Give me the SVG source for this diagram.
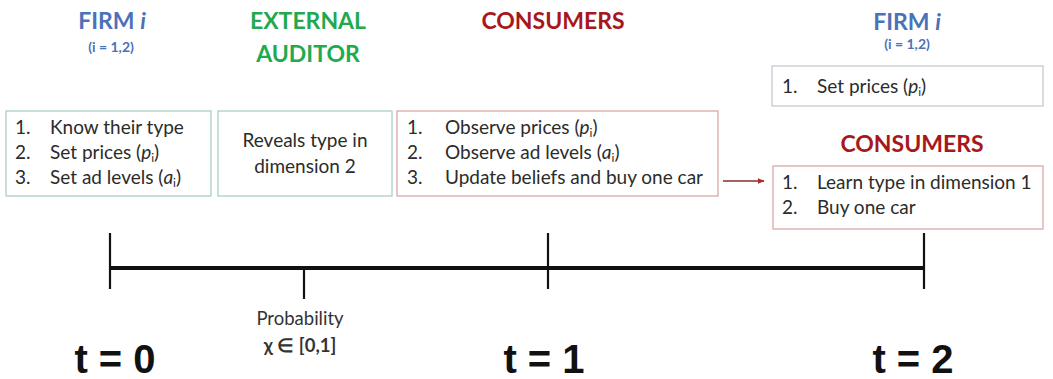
<svg xmlns="http://www.w3.org/2000/svg" width="1053" height="379" viewBox="0 0 1053 379">
  <defs>
    <marker id="arrowhead" viewBox="0 0 10 10" refX="9" refY="5" markerWidth="7" markerHeight="7" orient="auto" markerUnits="userSpaceOnUse">
      <path d="M0,1 L10,5 L0,9 z" fill="#b22a2a"/>
    </marker>
    <style>
      text { font-family: Lato, "Liberation Sans", sans-serif; fill: #2b2b2b; }
      .hd { font-weight: bold; font-size: 23px; text-anchor: middle; }
      .firm { fill: #4a72b8; }
      .aud { fill: #1faa4f; }
      .cons { fill: #a8171b; }
      .sub { font-size: 14px; font-weight: bold; text-anchor: middle; fill: #4a72b8; }
      .item { font-size: 19px; }
      .mid { text-anchor: middle; }
      .box { fill: #ffffff; stroke-width: 1.3; }
      .teal { stroke: #a9cfc8; }
      .pink { stroke: #d7a9a9; }
      .grey { stroke: #c8c9d2; }
      .axis { stroke: #111; stroke-width: 4; fill: none; }
      .tick { stroke: #111; stroke-width: 2.2; fill: none; }
      .t { font-family: "Liberation Sans", Arial, sans-serif; font-weight: bold; font-size: 40px; text-anchor: middle; fill: #111; }
      .prob { font-size: 18.5px; text-anchor: middle; fill: #333; }
    </style>
  </defs>

  <!-- column headers -->
  <g id="header-firm-t0">
    <text class="hd firm" x="112" y="29">FIRM <tspan font-style="italic">i</tspan></text>
    <text class="sub" x="111" y="52">(i = 1,2)</text>
  </g>
  <g id="header-auditor">
    <text class="hd aud" x="308" y="29">EXTERNAL</text>
    <text class="hd aud" x="308" y="62">AUDITOR</text>
  </g>
  <g id="header-consumers-t1">
    <text class="hd cons" x="553" y="29">CONSUMERS</text>
  </g>
  <g id="header-firm-t2">
    <text class="hd firm" x="907" y="30">FIRM <tspan font-style="italic">i</tspan></text>
    <text class="sub" x="907" y="49">(i = 1,2)</text>
  </g>
  <g id="header-consumers-t2">
    <text class="hd cons" x="912" y="152">CONSUMERS</text>
  </g>

  <!-- firm actions at t = 0 -->
  <g id="firm-t0">
    <rect class="box teal" x="6" y="111" width="205" height="85"/>
    <text class="item" x="15" y="134">1.</text><text class="item" x="50" y="134">Know their type</text>
    <text class="item" x="15" y="159">2.</text><text class="item" x="50" y="159">Set prices (<tspan font-style="italic">p</tspan><tspan font-size="12" dy="3">i</tspan><tspan dy="-3">)</tspan></text>
    <text class="item" x="15" y="184">3.</text><text class="item" x="50" y="184">Set ad levels (<tspan font-style="italic">a</tspan><tspan font-size="12" dy="3">i</tspan><tspan dy="-3">)</tspan></text>
  </g>

  <!-- auditor -->
  <g id="auditor">
    <rect class="box teal" x="218" y="111" width="174" height="85"/>
    <text class="item mid" x="305" y="147">Reveals type in</text>
    <text class="item mid" x="305" y="173">dimension 2</text>
  </g>

  <!-- consumers at t = 1 -->
  <g id="consumers-t1">
    <rect class="box pink" x="397" y="111" width="321" height="85"/>
    <text class="item" x="407" y="134">1.</text><text class="item" x="445" y="134">Observe prices (<tspan font-style="italic">p</tspan><tspan font-size="12" dy="3">i</tspan><tspan dy="-3">)</tspan></text>
    <text class="item" x="407" y="159">2.</text><text class="item" x="445" y="159">Observe ad levels (<tspan font-style="italic">a</tspan><tspan font-size="12" dy="3">i</tspan><tspan dy="-3">)</tspan></text>
    <text class="item" x="407" y="184">3.</text><text class="item" x="445" y="184">Update beliefs and buy one car</text>
  </g>

  <!-- firm at t = 2 -->
  <g id="firm-t2">
    <rect class="box grey" x="772" y="66" width="271" height="40"/>
    <text class="item" x="782" y="93">1.</text><text class="item" x="817" y="93">Set prices (<tspan font-style="italic">p</tspan><tspan font-size="12" dy="3">i</tspan><tspan dy="-3">)</tspan></text>
  </g>

  <!-- consumers at t = 2 -->
  <g id="consumers-t2">
    <rect class="box pink" x="773" y="166" width="270" height="63"/>
    <text class="item" x="782" y="189">1.</text><text class="item" x="817" y="189">Learn type in dimension 1</text>
    <text class="item" x="782" y="214">2.</text><text class="item" x="817" y="214">Buy one car</text>
  </g>

  <!-- connectors and timeline -->
  <g id="connectors">
    <line x1="723" y1="181" x2="764" y2="181" stroke="#8a2a2a" stroke-width="1.5" marker-end="url(#arrowhead)"/>
    <line class="axis" x1="110" y1="268" x2="924" y2="268"/>
    <line class="tick" x1="110" y1="233" x2="110" y2="289"/>
    <line class="tick" x1="548" y1="233" x2="548" y2="289"/>
    <line class="tick" x1="924" y1="233" x2="924" y2="289"/>
    <line class="tick" x1="304" y1="268" x2="304" y2="299"/>
  </g>

  <g id="probability">
    <text class="prob" x="300" y="325">Probability</text>
    <text class="prob" x="300" y="352" font-weight="bold">χ ∈ [0,1]</text>
  </g>

  <g id="time-labels">
    <text class="t" x="115" y="373">t = 0</text>
    <text class="t" x="544" y="373">t = 1</text>
    <text class="t" x="913" y="373">t = 2</text>
  </g>
</svg>
